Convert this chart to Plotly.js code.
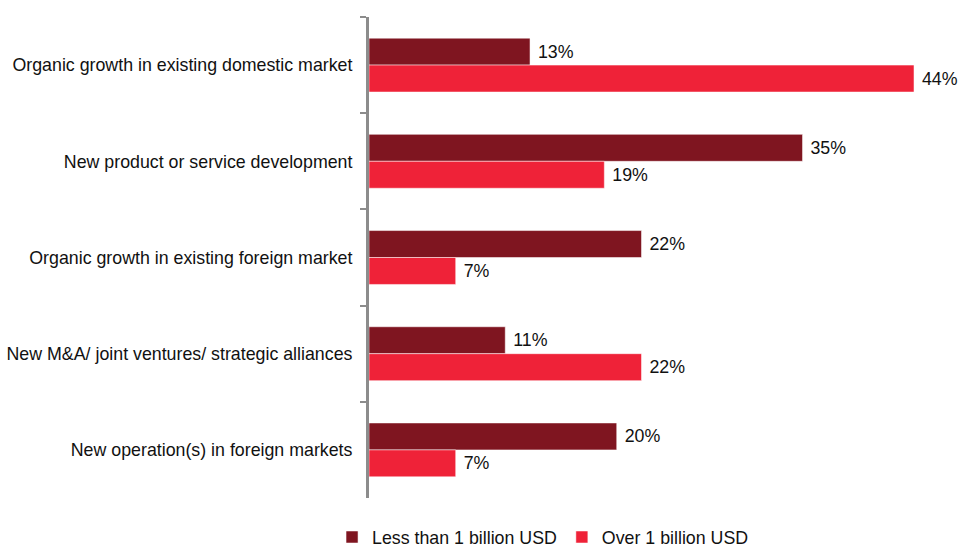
<!DOCTYPE html>
<html>
<head>
<meta charset="utf-8">
<script src="https://cdn.plot.ly/plotly-3.0.1.min.js"></script>
<style>
	html, body { margin: 0; padding: 0; background: #fff; }
	#chart { width: 962px; height: 551px; }
</style>
</head>
<body>
<div id="chart"></div>
<script>
var categories = [
	'Organic growth in existing domestic market',
	'New product or service development',
	'Organic growth in existing foreign market',
	'New M&A/ joint ventures/ strategic alliances',
	'New operation(s) in foreign markets'
];
var seriesNames = ['Less than 1 billion USD', 'Over 1 billion USD'];
var lessThanBillion = [13, 35, 22, 11, 20];
var overBillion = [44, 19, 7, 22, 7];

var colours = ['#7f1520', '#ef2238'];
var fontFamily = 'Liberation Sans, Arial, sans-serif';

function makeTrace(name, values, colour) {
	return {
		type: 'bar',
		orientation: 'h',
		name: name,
		y: categories,
		x: values,
		texttemplate: '\u00a0%{x}%',
		textposition: 'outside',
		cliponaxis: false,
		textfont: { family: fontFamily, size: 17.8, color: '#111' },
		marker: {
			color: colour,
			line: { color: 'rgba(255,255,255,0.5)', width: 1 }
		}
	};
}

var data = [
	makeTrace(seriesNames[0], lessThanBillion, colours[0]),
	makeTrace(seriesNames[1], overBillion, colours[1])
];

var layout = {
	width: 962,
	height: 551,
	margin: { l: 369, r: 20, t: 17, b: 53, autoexpand: false },
	paper_bgcolor: '#fff',
	plot_bgcolor: '#fff',
	font: { family: fontFamily, size: 17.8, color: '#111' },
	barmode: 'group',
	bargap: 0.44,
	bargroupgap: 0,
	showlegend: true,
	legend: {
		orientation: 'h',
		x: -0.0645,
		xanchor: 'left',
		y: -0.082,
		yanchor: 'middle',
		font: { size: 17.8 },
		traceorder: 'normal'
	},
	xaxis: {
		range: [0, 46.26],
		visible: false,
		showgrid: false,
		zeroline: false
	},
	yaxis: {
		type: 'category',
		autorange: 'reversed',
		showline: true,
		linecolor: '#8c8c8c',
		linewidth: 3,
		ticks: 'outside',
		tickson: 'boundaries',
		ticklen: 6,
		tickwidth: 2,
		tickcolor: '#8c8c8c',
		ticklabelstandoff: 10,
		showgrid: false,
		zeroline: false
	}
};

var config = {
	displayModeBar: false,
	staticPlot: true
};

Plotly.newPlot('chart', data, layout, config);
</script>
</body>
</html>
